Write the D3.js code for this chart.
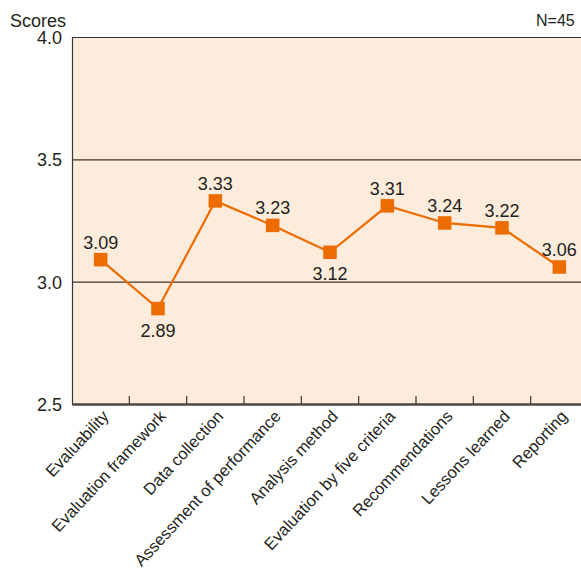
<!DOCTYPE html>
<html>
<head>
<meta charset="utf-8">
<script src="https://cdn.jsdelivr.net/npm/d3@7"></script>
<style>
  html, body { margin: 0; padding: 0; background: #ffffff; }
  svg { display: block; }
  text { font-family: "Liberation Sans", Arial, Helvetica, sans-serif; fill: #231f20; }
  .cat text { font-family: "Liberation Sans Narrow", "Arial Narrow", "Liberation Sans", sans-serif; }
</style>
</head>
<body>
<svg id="chart" width="581" height="571"></svg>
<script>
// Evaluation items and their average scores
const categories = [
  "Evaluability",
  "Evaluation framework",
  "Data collection",
  "Assessment of performance",
  "Analysis method",
  "Evaluation by five criteria",
  "Recommendations",
  "Lessons learned",
  "Reporting"
];
const scores = [3.09, 2.89, 3.33, 3.23, 3.12, 3.31, 3.24, 3.22, 3.06];
const yTicks = [2.5, 3.0, 3.5, 4.0];
// labels drawn beneath their marker instead of above it
const labelBelow = ["Evaluation framework", "Analysis method"];

const data = categories.map((c, i) => ({ cat: c, value: scores[i] }));

const svg = d3.select("#chart");
const margin = { left: 72, top: 37, bottom: 404 };
const plotRight = 588; // the plot runs past the right edge of the view

const x = d3.scaleBand().domain(categories).range([margin.left, plotRight]).padding(0);
const y = d3.scaleLinear().domain([2.5, 4.0]).range([margin.bottom, margin.top]);

// plot background
svg.append("rect")
  .attr("x", margin.left).attr("y", y(4.0))
  .attr("width", plotRight - margin.left).attr("height", y(2.5) - y(4.0))
  .attr("fill", "#fdebdb");

// y axis with full-width gridlines
const yAxis = svg.append("g")
  .attr("transform", `translate(${margin.left},0)`)
  .call(d3.axisLeft(y).tickValues(yTicks).tickFormat(d3.format(".1f"))
    .tickSizeInner(-(plotRight - margin.left)).tickSizeOuter(0).tickPadding(10));
yAxis.select(".domain").attr("stroke", "#3a3532").attr("stroke-width", 1.2);
yAxis.selectAll(".tick line").attr("stroke", "#3a3532").attr("stroke-width", 1.2);
yAxis.selectAll(".tick text").attr("font-size", 18).attr("fill", "#231f20").attr("dy", "0.36em");

// x axis: line, inner boundary ticks, rotated category labels
const xAxis = svg.append("g")
  .attr("class", "cat")
  .attr("transform", `translate(0,${margin.bottom})`)
  .call(d3.axisBottom(x).tickSize(0).tickPadding(0));
xAxis.select(".domain").attr("stroke", "#4a4542").attr("stroke-width", 2.5);
xAxis.selectAll(".tick text")
  .attr("font-size", 16.5)
  .attr("text-anchor", "end")
  .attr("dy", 0)
  .attr("transform", "translate(9,13) rotate(-47)");

svg.append("g")
  .selectAll("line")
  .data(categories.slice(1))
  .join("line")
  .attr("x1", d => x(d)).attr("x2", d => x(d))
  .attr("y1", margin.bottom).attr("y2", margin.bottom - 8)
  .attr("stroke", "#4a4542").attr("stroke-width", 1.3);

// series line
const cx = d => x(d.cat) + x.bandwidth() / 2;
svg.append("path")
  .datum(data)
  .attr("fill", "none")
  .attr("stroke", "#ec6c00")
  .attr("stroke-width", 2.2)
  .attr("d", d3.line().x(cx).y(d => y(d.value)));

// square markers
const ms = 13.5;
svg.append("g")
  .selectAll("rect")
  .data(data)
  .join("rect")
  .attr("x", d => cx(d) - ms / 2)
  .attr("y", d => y(d.value) - ms / 2)
  .attr("width", ms).attr("height", ms)
  .attr("fill", "#ec6c00");

// value labels
svg.append("g")
  .selectAll("text")
  .data(data)
  .join("text")
  .attr("x", cx)
  .attr("y", d => labelBelow.includes(d.cat) ? y(d.value) + 28 : y(d.value) - 11)
  .attr("text-anchor", "middle")
  .attr("font-size", 18)
  .text(d => d3.format(".2f")(d.value));

// axis title and sample size
svg.append("text").attr("x", 10).attr("y", 27).attr("font-size", 18).text("Scores");
svg.append("text").attr("x", 536).attr("y", 26).attr("font-size", 16).text("N=45");
</script>
</body>
</html>
